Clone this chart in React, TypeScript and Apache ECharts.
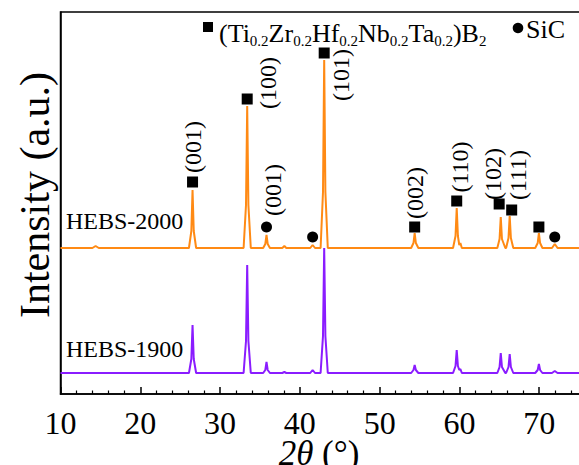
import React, { useEffect, useRef } from "react";
import * as echarts from "echarts";

const FONT = "Liberation Serif";

// x ticks
const xTickValues = [10, 20, 30, 40, 50, 60, 70];

// HEBS-2000 pattern (2θ, intensity incl. stacking offset)
const hebs2000: [number, number][] = [
  [10, 146], [14.0, 146], [14.4, 148], [14.8, 146],
  [26.1, 146], [26.4, 163], [26.55, 204], [26.7, 163], [27.0, 146],
  [32.95, 146], [33.25, 189], [33.4, 288], [33.55, 189], [33.85, 146],
  [35.4, 146], [35.67, 150], [35.82, 159], [35.97, 150], [36.25, 146],
  [37.8, 146], [38.06, 148], [38.3, 146],
  [41.3, 146], [41.6, 149], [41.9, 146],
  [42.6, 146], [42.9, 202], [43.05, 334], [43.2, 202], [43.5, 146],
  [53.95, 146], [54.24, 151], [54.39, 161], [54.54, 151], [54.85, 146],
  [59.2, 146], [59.51, 158], [59.66, 186], [59.81, 158], [59.98, 149], [60.12, 151], [60.3, 146],
  [64.75, 146], [65.03, 155], [65.18, 177], [65.33, 155], [65.75, 146],
  [65.85, 146], [66.15, 156], [66.3, 178], [66.45, 156], [66.75, 146],
  [69.5, 146], [69.81, 151], [69.96, 161], [70.11, 151], [70.4, 146],
  [71.6, 146], [71.95, 150], [72.3, 146],
  [80, 146],
];

// HEBS-1900 pattern
const hebs1900: [number, number][] = [
  [10, 21],
  [26.1, 21], [26.4, 35], [26.55, 69], [26.7, 35], [27.0, 21],
  [32.95, 21], [33.25, 53], [33.4, 129], [33.55, 53], [33.85, 21],
  [35.4, 21], [35.67, 24], [35.82, 32], [35.97, 24], [36.25, 21],
  [37.8, 21], [38.06, 22], [38.3, 21],
  [41.3, 21], [41.6, 24], [41.9, 21],
  [42.6, 21], [42.9, 58], [43.05, 146], [43.2, 58], [43.5, 21],
  [53.95, 21], [54.24, 24], [54.39, 29], [54.54, 24], [54.85, 21],
  [59.2, 21], [59.51, 28], [59.66, 44], [59.81, 28], [59.98, 24], [60.12, 25], [60.3, 21],
  [64.75, 21], [65.03, 27], [65.18, 41], [65.33, 27], [65.75, 21],
  [65.85, 21], [66.15, 27], [66.3, 40], [66.45, 27], [66.75, 21],
  [69.5, 21], [69.81, 24], [69.96, 30], [70.11, 24], [70.4, 21],
  [71.6, 21], [71.95, 23], [72.3, 21],
  [80, 21],
];

// Phase markers
const borideMarks: [number, number][] = [
  [26.55, 212], [33.4, 295], [43.05, 341], [54.39, 167],
  [59.66, 193], [64.98, 190], [66.55, 184], [69.96, 167],
];
const borideLabels = ["(001)", "(100)", "(101)", "(002)", "(110)", "(102)", "(111)", ""];
const sicMarks: [number, number][] = [[35.82, 167], [41.6, 157], [71.95, 157]];
const sicLabels = ["(001)", "", ""];

const seriesNames = ["HEBS-2000", "HEBS-1900"];
const legendBoride = "{m|(Ti}{s|0.2}{m|Zr}{s|0.2}{m|Hf}{s|0.2}{m|Nb}{s|0.2}{m|Ta}{s|0.2}{m|)B}{s|2}";
const legendSiC = "SiC";

// layout: label centre offsets (px) from their marker
const borideLabelOffsets: [number, number][] = [
  [0, -35], [21, -16], [17, 22], [0, -34], [3, -34], [-6, -30], [6, -35], [0, 0],
];
const sicLabelOffsets: [number, number][] = [[6, -37], [0, 0], [0, 0]];

const CHART_W = 622; // plot runs past the right edge of the 579px frame

export default function App() {
  const ref = useRef<HTMLDivElement>(null);
  useEffect(() => {
    if (!ref.current) return;
    document.body.style.overflow = "hidden";
    const chart = echarts.init(ref.current, undefined, { renderer: "svg" });
    chart.setOption({
      animation: false,
      backgroundColor: "#fff",
      textStyle: { fontFamily: FONT },
      grid: {
        left: 60.5, top: 12, right: 0, bottom: 71,
        show: true, borderColor: "#000", borderWidth: 1.5,
      },
      xAxis: {
        type: "value", min: 10, max: 80, interval: 10,
        axisLine: { lineStyle: { color: "#000", width: 1.5 } },
        axisTick: { inside: true, length: 7, lineStyle: { color: "#000", width: 1.5 } },
        minorTick: { show: true, splitNumber: 5, length: 3.5, lineStyle: { color: "#000", width: 1.2 } },
        splitLine: { show: false },
        axisLabel: {
          fontFamily: FONT, color: "#000", fontSize: 32, margin: 13,
          formatter: (v: number) => (xTickValues.includes(v) ? `{t|${v}}` : ""),
          rich: { t: { fontFamily: FONT, fontSize: 32, color: "#000" } },
        },
      },
      yAxis: {
        type: "value", min: 0, max: 382,
        axisLine: { show: true, lineStyle: { color: "#000", width: 1.5 } },
        axisTick: { show: false }, axisLabel: { show: false }, splitLine: { show: false },
      },
      series: [
        {
          name: seriesNames[0], type: "line", data: hebs2000, showSymbol: false, symbol: "none",
          lineStyle: { color: "#FF8A14", width: 2 }, z: 2,
        },
        {
          name: seriesNames[1], type: "line", data: hebs1900, showSymbol: false, symbol: "none",
          lineStyle: { color: "#8A1CFF", width: 2 }, z: 2,
        },
        {
          type: "scatter", data: borideMarks, symbol: "rect", symbolSize: 11,
          itemStyle: { color: "#000", opacity: 1 }, z: 5,
        },
        {
          type: "scatter", data: sicMarks, symbol: "circle", symbolSize: 11,
          itemStyle: { color: "#000", opacity: 1 }, z: 5,
        },
      ],
    });

    const graphics: any[] = [];
    const addLabels = (marks: [number, number][], labels: string[], offs: [number, number][]) => {
      marks.forEach((m, i) => {
        if (!labels[i]) return;
        const p = chart.convertToPixel({ gridIndex: 0 }, m) as number[];
        graphics.push({
          type: "text", x: p[0] + offs[i][0], y: p[1] + offs[i][1], rotation: Math.PI / 2,
          style: { text: labels[i], fill: "#000", fontFamily: FONT, fontSize: 24, align: "center", verticalAlign: "middle" },
          z: 10,
        });
      });
    };
    addLabels(borideMarks, borideLabels, borideLabelOffsets);
    addLabels(sicMarks, sicLabels, sicLabelOffsets);

    graphics.push(
      {
        type: "text", x: 35, y: 195, rotation: Math.PI / 2,
        style: { text: "Intensity (a.u.)", fill: "#000", fontFamily: FONT, fontSize: 42, align: "center", verticalAlign: "middle" },
      },
      {
        type: "text", x: 319, y: 453,
        style: {
          text: "{i|2θ}{n| (°)}", align: "center", verticalAlign: "middle",
          rich: {
            i: { fontFamily: FONT, fontSize: 35, lineHeight: 36, fontStyle: "italic", fill: "#000" },
            n: { fontFamily: FONT, fontSize: 35, lineHeight: 36, fill: "#000" },
          },
        },
      },
      {
        type: "text", x: 66, y: 221,
        style: { text: seriesNames[0], fill: "#000", fontFamily: FONT, fontSize: 24, align: "left", verticalAlign: "middle" },
      },
      {
        type: "text", x: 66, y: 349,
        style: { text: seriesNames[1], fill: "#000", fontFamily: FONT, fontSize: 24, align: "left", verticalAlign: "middle" },
      },
      { type: "rect", shape: { x: 203, y: 22, width: 10, height: 10 }, style: { fill: "#000" } },
      {
        type: "text", x: 219, y: 33,
        style: {
          text: legendBoride, align: "left", verticalAlign: "middle",
          rich: {
            m: { fontFamily: FONT, fontSize: 26, lineHeight: 30, fill: "#000" },
            s: { fontFamily: FONT, fontSize: 15, lineHeight: 14, verticalAlign: "bottom", fill: "#000" },
          },
        },
      },
      { type: "circle", shape: { cx: 518, cy: 28, r: 5.3 }, style: { fill: "#000" } },
      {
        type: "text", x: 526, y: 29,
        style: { text: legendSiC, fill: "#000", fontFamily: FONT, fontSize: 26, align: "left", verticalAlign: "middle" },
      },
    );
    chart.setOption({ graphic: graphics });
    return () => chart.dispose();
  }, []);
  return (
    <div style={{ position: "fixed", left: 0, top: 0, width: 579, height: 465, overflow: "hidden", background: "#fff" }}>
      <div ref={ref} style={{ width: CHART_W, height: 465 }} />
    </div>
  );
}
